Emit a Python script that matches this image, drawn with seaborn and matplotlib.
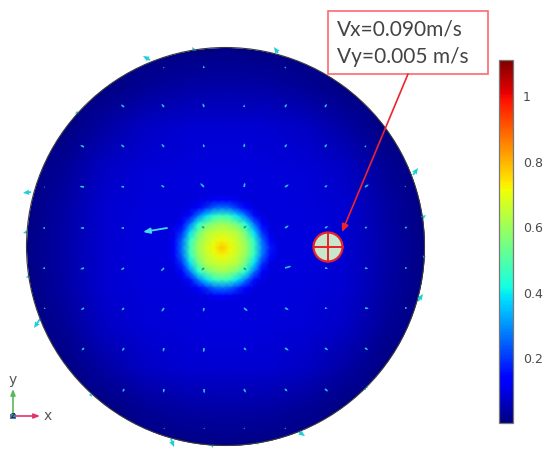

# Speed map on a round domain with a small probe and its velocity callout.

import numpy as np
import seaborn as sns
import matplotlib
matplotlib.use("Agg")
import matplotlib.pyplot as plt
from matplotlib.patches import Circle, Rectangle

N = np.nan

# Speed, coarse nodes over the whole disc.
disc_speed = [
    [.002, .002, .002, .002, .006, .010, .006, .002, .002, .002, .002],
    [.002, .002, .006, .025, .040, .045, .040, .025, .006, .002, .002],
    [.002, .006, .040, .070, .080, .082, .080, .070, .040, .006, .002],
    [.002, .025, .070, .088, .092, .094, .092, .088, .070, .025, .002],
    [.006, .040, .080, .092, .094, .095, .094, .092, .080, .040, .006],
    [.010, .045, .082, .094, .095, .095, .095, .094, .082, .045, .010],
    [.006, .040, .080, .092, .094, .095, .094, .092, .080, .040, .006],
    [.002, .025, .070, .088, .092, .094, .092, .088, .070, .025, .002],
    [.002, .006, .040, .070, .080, .082, .080, .070, .040, .006, .002],
    [.002, .002, .006, .025, .040, .045, .040, .025, .006, .002, .002],
    [.002, .002, .002, .002, .006, .010, .006, .002, .002, .002, .002],
]

# Speed, finer nodes over the hot spot.
spot_speed = [
    [.09, .09, .09, .09, .09, .09, .09, .09, .09, .09, .09, .09, .09, .09, .09],
    [.09, .09, .09, .09, .095, .105, .115, .12, .115, .105, .095, .09, .09, .09, .09],
    [.09, .09, .09, .10, .135, .19, .25, .27, .25, .19, .135, .10, .09, .09, .09],
    [.09, .09, .10, .15, .27, .38, .45, .47, .45, .38, .27, .15, .10, .09, .09],
    [.09, .095, .135, .27, .43, .53, .58, .60, .58, .53, .43, .27, .135, .095, .09],
    [.09, .105, .19, .38, .53, .62, .65, .66, .65, .62, .53, .38, .19, .105, .09],
    [.09, .115, .25, .45, .58, .65, .69, .72, .69, .65, .58, .45, .26, .13, .09],
    [.09, .12, .27, .47, .60, .66, .72, .78, .72, .66, .60, .47, .29, .17, .10],
    [.09, .115, .25, .45, .58, .65, .69, .72, .69, .65, .58, .45, .27, .15, .10],
    [.09, .105, .19, .38, .53, .62, .65, .66, .65, .62, .53, .38, .19, .105, .09],
    [.09, .095, .135, .27, .43, .53, .58, .60, .58, .53, .43, .27, .135, .095, .09],
    [.09, .09, .10, .15, .27, .38, .45, .47, .45, .38, .27, .15, .10, .09, .09],
    [.09, .09, .09, .10, .135, .19, .25, .27, .25, .19, .135, .10, .09, .09, .09],
    [.09, .09, .09, .09, .095, .105, .115, .12, .115, .105, .095, .09, .09, .09, .09],
    [.09, .09, .09, .09, .09, .09, .09, .09, .09, .09, .09, .09, .09, .09, .09],
]

# Small velocity arrows, picture pixels, y pointing down.
arrow_cols = [45, 84, 124, 164, 204, 244, 285, 325, 365, 405]
arrow_rows = [68, 107, 147, 187, 228, 268, 308, 348, 389, 428]
arrow_u = [
    [N, N, N, -.6, -.6, N, .8, N, N, N],
    [N, -.8, -2.5, -2, -1, .3, 1.5, 1.5, N, N],
    [N, -3, -2.5, -2, -.6, .5, 1.5, 1.5, 1, N],
    [-1, -3.5, -2.5, -2.5, -3, .8, 3, 2, 3, .6],
    [-2, -3, -2.5, N, -2, 2, 3, 2.5, 2, 2],
    [-2, -3, -2.5, -2.5, -2, 2, 5, 2.5, 2.5, 2],
    [-1, -2.5, -2, -2, -.6, 3, 3, 2, 3, 2],
    [N, -2, -1.5, -.8, -.3, 2, 3, 2.5, 2.5, N],
    [N, N, -1, -.5, .2, 1.5, 2, 2.5, 1, N],
    [N, N, N, .4, .4, .5, .6, N, N, N],
]
arrow_v = [
    [N, N, N, -1, -2, N, -1.2, N, N, N],
    [N, -.6, -2, -2.5, -3, -2, -2.5, -2.5, N, N],
    [N, -1.5, -2, -2.5, -2.5, -3, -2.5, -2.5, -1.5, N],
    [0, -.5, -.5, -1.5, -3, -3.5, -2, -1.5, -2, -1],
    [0, 0, 0, N, -1.5, -2, -2, -1.5, -1, -1],
    [.3, 1, 1.5, 2.5, 2, 2, -1.5, .3, .6, 0],
    [1, 1.5, 2, 3, 3, 2.5, 1.5, .5, .5, 0],
    [N, 2, 2.5, 3, 3.5, 2, 2, 1.8, 1.5, N],
    [N, N, 2.5, 3, 3.5, 3, 2, 2, 1, N],
    [N, N, N, 1, 1, 1, 1, N, N, N],
]
dark_arrows = [(4, 4), (4, 5), (5, 4), (5, 5)]

# The one long arrow left of the hot spot.
long_tail = (167, 228)
long_tip = (143, 232)

# Arrows standing on the rim of the disc.
rim_x = [150, 194, 78, 31, 27, 29, 40, 90, 278, 413, 422, 423, 418, 299, 366, 171, 212, 257]
rim_y = [60, 50, 112, 192, 232, 276, 319, 394, 53, 175, 218, 257, 301, 432, 387, 439, 445, 443]
rim_u = [-7, -2, -3, -8, -4, -3, -6, 2, -4, 5, 4, 3, 5, 6, 2, 3, 1, 0.5]
rim_v = [-4, -3, 2, 1, 1, 2, 9, 3, -6, -7, -3, -1, -7, 4, 1, 8, 3, 2]

tick_values = [0.2, 0.4, 0.6, 0.8, 1.0]
tick_labels = ["0.2", "0.4", "0.6", "0.8", "1"]
callout_lines = ["Vx=0.090m/s", "Vy=0.005 m/s"]

fig_w, fig_h = 550, 457


def px_axes(fig, x0, y0, x1, y1):
    # Axes placed by picture pixels, y counted from the top.
    ax = fig.add_axes([x0 / fig_w, 1 - y1 / fig_h, (x1 - x0) / fig_w, (y1 - y0) / fig_h])
    ax.patch.set_visible(False)
    return ax


def field_map(ax, speed, cax=None):
    # Smooth heatmap whose outer nodes sit on the edges of the axes.
    sns.heatmap(np.array(speed), ax=ax, cmap="jet", vmin=0.002, vmax=1.11, shading="gouraud",
                xticklabels=False, yticklabels=False, cbar=cax is not None, cbar_ax=cax)
    n_rows, n_cols = np.array(speed).shape
    ax.set_xlim(0, n_cols - 1)
    ax.set_ylim(n_rows - 1, 0)
    ax.set_xlabel("")
    ax.set_ylabel("")
    ax.axis("off")


sns.set_style("white")
fig = plt.figure(figsize=(fig_w / 100, fig_h / 100), dpi=100, facecolor="white")

ax_disc = px_axes(fig, 25, 47, 426, 448)
cax = px_axes(fig, 499, 60, 513, 423)
field_map(ax_disc, disc_speed, cax)
ax_spot = px_axes(fig, 166, 192, 278, 304)
field_map(ax_spot, spot_speed)

# Overlay in picture pixels for everything drawn on top of the field.
ax = px_axes(fig, 0, 0, fig_w, fig_h)
ax.set_xlim(0, fig_w)
ax.set_ylim(fig_h, 0)
ax.axis("off")

rim = Circle((225.5, 246.5), 199, fill=False, edgecolor="#3a3a3a", linewidth=0.8, zorder=5)
ax.add_patch(rim)
ax_disc.collections[0].set_clip_path(Circle((225.5, 246.5), 199, transform=ax.transData))

# Small velocity arrows.
grid_x, grid_y = np.meshgrid(arrow_cols, arrow_rows)
u = np.array(arrow_u, dtype=float)
v = np.array(arrow_v, dtype=float)
colors = np.full(u.shape, "#1fc6e0", dtype=object)
for r, c in dark_arrows:
    colors[r, c] = "#2b8f86"
keep = ~np.isnan(u)
ax.quiver(grid_x[keep], grid_y[keep], u[keep], v[keep], color=list(colors[keep]), angles="xy",
          scale_units="xy", scale=0.8, units="xy", width=1.7, headwidth=1.2, headlength=1.2,
          headaxislength=1.2, minlength=0.4, minshaft=0.5, zorder=3)
ax.annotate("", xy=long_tip, xytext=long_tail, zorder=4,
            arrowprops=dict(arrowstyle="-|>,head_width=0.16,head_length=0.4", color="#45dcec", lw=1.3,
                            shrinkA=0, shrinkB=0))

# Rim arrows.
ax.quiver(rim_x, rim_y, rim_u, rim_v, color="#1ccfd8", angles="xy", scale_units="xy", scale=1,
          units="xy", width=1.8, headwidth=3, headlength=3.5, headaxislength=3.2, zorder=2)

# Probe circle with its cross.
ax.add_patch(Circle((328, 247), 14.5, facecolor="#c8e6cc", edgecolor="#e8202a", linewidth=1.6, zorder=6))
ax.plot([313.5, 342.5], [247, 247], color="#e8202a", lw=1.4, zorder=7)
ax.plot([328, 328], [232.5, 261.5], color="#e8202a", lw=1.4, zorder=7)

# Callout box and its arrow.
ax.add_patch(Rectangle((328, 11), 160, 63, facecolor="white", edgecolor="#fb6a6e", linewidth=1.2, zorder=8))
ax.text(337, 30, callout_lines[0], fontsize=15, family="Lato", color="#444444", va="center", zorder=9)
ax.text(337, 57, callout_lines[1], fontsize=15, family="Lato", color="#444444", va="center", zorder=9)
ax.annotate("", xy=(342, 232), xytext=(408, 74), zorder=9,
            arrowprops=dict(arrowstyle="-|>,head_width=0.2,head_length=0.45", color="#f0232c", lw=1.2,
                            shrinkA=0, shrinkB=0))

# Axis triad in the corner.
ax.annotate("", xy=(40, 416), xytext=(13, 416),
            arrowprops=dict(arrowstyle="-|>,head_width=0.14,head_length=0.35", color="#e8326a", lw=1.2,
                            shrinkA=0, shrinkB=0))
ax.annotate("", xy=(13, 389), xytext=(13, 416),
            arrowprops=dict(arrowstyle="-|>,head_width=0.14,head_length=0.35", color="#5cb85c", lw=1.2,
                            shrinkA=0, shrinkB=0))
ax.add_patch(Rectangle((10, 413.5), 5.5, 5.5, facecolor="#4a7fb0", edgecolor="none", zorder=6))
ax.text(13, 416, "z", fontsize=6, color="#222222", ha="center", va="center", zorder=7)
ax.text(48, 416, "x", fontsize=10, color="#555555", ha="center", va="center")
ax.text(13, 380, "y", fontsize=10, color="#555555", ha="center", va="center")

# Colorbar finish.
cbar = ax_disc.collections[0].colorbar
cbar.set_ticks(tick_values, labels=tick_labels)
cbar.outline.set_linewidth(0.9)
cbar.outline.set_edgecolor("#777777")
cax.tick_params(axis="y", left=True, right=True, direction="in", length=2.5, width=0.8, color="#333333",
                labelsize=9, labelcolor="#4a4a4a", pad=7)
cax.axis("on")

plt.savefig("out.png", dpi=100)
